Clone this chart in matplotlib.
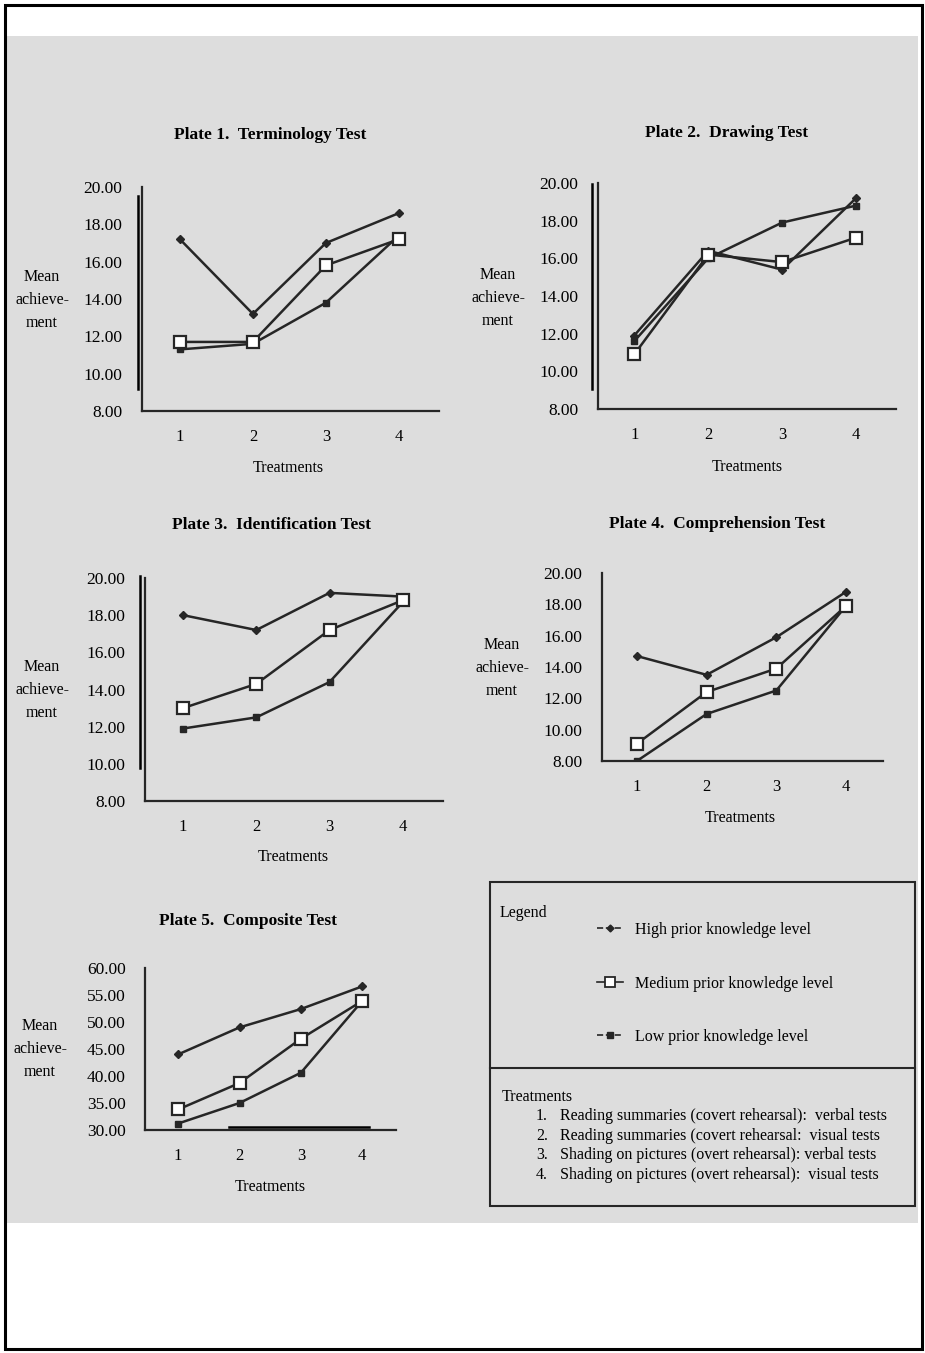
import matplotlib
matplotlib.use("Agg")
import matplotlib.pyplot as plt
from matplotlib.lines import Line2D
from matplotlib.patches import Rectangle

plt.rcParams['font.family'] = ['Liberation Serif', 'DejaVu Serif']

# data (treatments 1-4)
treatments = [1, 2, 3, 4]
levels = ['High prior knowledge level', 'Medium prior knowledge level', 'Low prior knowledge level']

terminology_high = [17.2, 13.2, 17.0, 18.6]
terminology_medium = [11.7, 11.7, 15.8, 17.2]
terminology_low = [11.3, 11.6, 13.8, 17.4]

drawing_high = [11.9, 16.4, 15.4, 19.2]
drawing_medium = [10.9, 16.2, 15.8, 17.1]
drawing_low = [11.6, 16.0, 17.9, 18.8]

identification_high = [18.0, 17.2, 19.2, 19.0]
identification_medium = [13.0, 14.3, 17.2, 18.8]
identification_low = [11.9, 12.5, 14.4, 18.7]

comprehension_high = [14.7, 13.5, 15.9, 18.8]
comprehension_medium = [9.1, 12.4, 13.9, 17.9]
comprehension_low = [8.0, 11.0, 12.5, 17.9]

composite_high = [44.0, 49.0, 52.4, 56.6]
composite_medium = [33.8, 38.7, 46.9, 53.9]
composite_low = [31.2, 35.0, 40.6, 53.9]

titles = ['Plate 1.  Terminology Test', 'Plate 2.  Drawing Test', 'Plate 3.  Identification Test',
          'Plate 4.  Comprehension Test', 'Plate 5.  Composite Test']
yticks_20 = [8, 10, 12, 14, 16, 18, 20]
yticks_60 = [30, 35, 40, 45, 50, 55, 60]
treatment_notes = ['Reading summaries (covert rehearsal):  verbal tests',
                   'Reading summaries (covert rehearsal:  visual tests',
                   'Shading on pictures (overt rehearsal): verbal tests',
                   'Shading on pictures (overt rehearsal):  visual tests']

W, H = 925, 1353
fig = plt.figure(figsize=(W / 100, H / 100), dpi=100)
fig.patch.set_facecolor('white')


def fx(px):
    return px / W


def fy(py):
    return 1 - py / H


# scanned page area and outer frame
fig.add_artist(Rectangle((fx(6), fy(1223)), fx(918) - fx(6), fy(36) - fy(1223),
                         transform=fig.transFigure, facecolor='#dddddd', edgecolor='none', zorder=-5))
fig.add_artist(Rectangle((fx(5), fy(1349)), fx(922) - fx(5), fy(5) - fy(1349),
                         transform=fig.transFigure, facecolor='none', edgecolor='black', lw=2.2))

INK = '#262626'
plates = [
    # box (left, top, right, bottom) px, xlim, data, yticks, title pos, treatments pos, ylabel pos
    ((142, 187, 439, 411), (0.48, 4.55), (terminology_high, terminology_medium, terminology_low),
     yticks_20, (270, 135), (288, 468), (42, 300)),
    ((598, 183, 896, 409), (0.51, 4.54), (drawing_high, drawing_medium, drawing_low),
     yticks_20, (727, 133), (747, 467), (498, 298)),
    ((145, 578, 443, 801), (0.48, 4.55), (identification_high, identification_medium, identification_low),
     yticks_20, (271, 525), (293, 857), (42, 690)),
    ((602, 573, 883, 761), (0.50, 4.53), (comprehension_high, comprehension_medium, comprehension_low),
     yticks_20, (717, 524), (740, 818), (502, 668)),
    ((145, 968, 396, 1130), (0.46, 4.55), (composite_high, composite_medium, composite_low),
     yticks_60, (248, 921), (270, 1187), (40, 1049)),
]

handles = None
for i, (box, xlim, series, yt, tpos, xpos, ypos) in enumerate(plates):
    l, t, r, b = box
    ax = fig.add_axes([fx(l), fy(b), fx(r) - fx(l), fy(t) - fy(b)])
    ax.set_facecolor('none')
    high, medium, low = series
    h1, = ax.plot(treatments, high, color=INK, lw=1.8, marker='D', ms=4.5, mfc=INK, mec=INK, zorder=3)
    h3, = ax.plot(treatments, low, color=INK, lw=1.8, marker='s', ms=5, mfc=INK, mec=INK, zorder=3)
    h2, = ax.plot(treatments, medium, color=INK, lw=1.8, marker='s', ms=9, mfc='white', mec=INK,
                  mew=1.6, zorder=4)
    ax.set_xlim(*xlim)
    ax.set_ylim(yt[0], yt[-1])
    ax.set_xticks(treatments)
    ax.set_yticks(yt)
    ax.set_yticklabels(['%.2f' % v for v in yt])
    ax.tick_params(axis='y', length=0, pad=14, labelsize=12.5)
    ax.tick_params(axis='x', length=0, pad=13, labelsize=12)
    for s in ['top', 'right']:
        ax.spines[s].set_visible(False)
    for s in ['left', 'bottom']:
        ax.spines[s].set_linewidth(1.6)
        ax.spines[s].set_color(INK)
    ax.spines['left'].set_clip_on(False)
    fig.text(fx(tpos[0]), fy(tpos[1]), titles[i], ha='center', va='center', fontsize=12.5,
             fontweight='bold')
    fig.text(fx(xpos[0]), fy(xpos[1]), 'Treatments', ha='center', va='center', fontsize=11.5)
    fig.text(fx(ypos[0]), fy(ypos[1]), 'Mean\nachieve-\nment', ha='center', va='center',
             fontsize=11.5, linespacing=1.55)
    if handles is None:
        handles = [h1, h2, h3]

# black marks over the scan
for (x0, y0, x1, y1) in [(138, 196, 138, 389), (592, 184, 592, 389), (140, 576, 140, 768),
                         (229, 1127, 369, 1127)]:
    fig.add_artist(Line2D([fx(x0), fx(x1)], [fy(y0), fy(y1)], transform=fig.transFigure,
                          color='black', lw=1.8))

# legend box
fig.add_artist(Rectangle((fx(490), fy(1206)), fx(915) - fx(490), fy(882) - fy(1206),
                         transform=fig.transFigure, facecolor='none', edgecolor=INK, lw=1.5))
fig.add_artist(Line2D([fx(490), fx(915)], [fy(1068), fy(1068)], transform=fig.transFigure,
                      color=INK, lw=1.5))
fig.text(fx(500), fy(913), 'Legend', ha='left', va='center', fontsize=11.5)
proxies = [Line2D([], [], color=INK, lw=1.2, ls='--', marker='D', ms=3.5, mfc=INK, mec=INK),
           Line2D([], [], color=INK, lw=1.2, marker='s', ms=7, mfc='white', mec=INK, mew=1.3),
           Line2D([], [], color=INK, lw=1.2, ls='--', marker='s', ms=4, mfc=INK, mec=INK)]
fig.legend(proxies, levels, loc='upper left', bbox_to_anchor=(fx(597), fy(922)),
           frameon=False, fontsize=11.5, handlelength=1.6, handletextpad=0.8,
           labelspacing=2.35, borderpad=0, borderaxespad=0)
fig.text(fx(502), fy(1097), 'Treatments', ha='left', va='center', fontsize=11.5)
for k, note in enumerate(treatment_notes):
    yy = 1116 + k * 19.7
    fig.text(fx(536), fy(yy), '%d.' % treatments[k], ha='left', va='center', fontsize=11.5)
    fig.text(fx(560), fy(yy), note, ha='left', va='center', fontsize=11.5)

fig.savefig('out.png', dpi=100)
